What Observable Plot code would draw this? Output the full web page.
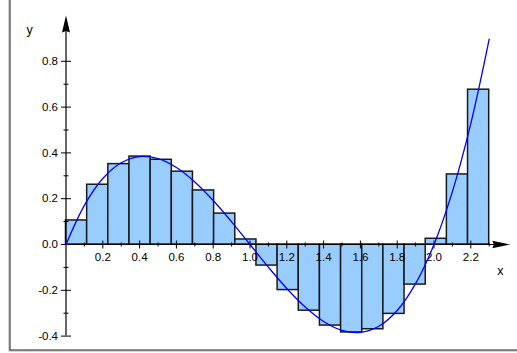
<!DOCTYPE html>
<html>
<head>
<meta charset="utf-8">
<script src="https://cdn.jsdelivr.net/npm/d3@7"></script>
<script src="https://cdn.jsdelivr.net/npm/@observablehq/plot@0.6"></script>
<style>
  html, body { margin: 0; padding: 0; background: #fff; overflow: hidden; }
  #chart { width: 517px; height: 353px; }
</style>
</head>
<body>
<div id="chart"></div>
<script>
// Midpoint Riemann sum: partition edges and rectangle heights
const barEdges = [0, 0.115, 0.23, 0.345, 0.46, 0.575, 0.69, 0.805, 0.92, 1.035, 1.15,
  1.265, 1.38, 1.495, 1.61, 1.725, 1.84, 1.955, 2.07, 2.185, 2.3];
const barHeights = [0.105, 0.261, 0.351, 0.384, 0.370, 0.318, 0.236, 0.135, 0.022, -0.092,
  -0.199, -0.289, -0.354, -0.384, -0.370, -0.303, -0.175, 0.025, 0.306, 0.676];

// Curve samples
const curveX = [0, 0.1, 0.2, 0.3, 0.4, 0.5, 0.6, 0.7, 0.8, 0.9, 1.0, 1.1, 1.2,
  1.3, 1.4, 1.5, 1.6, 1.7, 1.8, 1.9, 2.0, 2.1, 2.2, 2.3];
const curveY = [0, 0.171, 0.288, 0.357, 0.384, 0.375, 0.336, 0.273, 0.192, 0.099, 0,
  -0.099, -0.192, -0.273, -0.336, -0.375, -0.384, -0.357, -0.288, -0.171, 0, 0.231, 0.528, 0.897];

// Ticks
const xTicksMajor = [0.2, 0.4, 0.6, 0.8, 1.0, 1.2, 1.4, 1.6, 1.8, 2.0, 2.2];
const xTickLabels = ["0.2", "0.4", "0.6", "0.8", "1.0", "1.2", "1.4", "1.6", "1.8", "2.0", "2.2"];
const xTicksMinor = [0.1, 0.3, 0.5, 0.7, 0.9, 1.1, 1.3, 1.5, 1.7, 1.9, 2.1, 2.3];
const yTicksMajor = [-0.4, -0.2, 0, 0.2, 0.4, 0.6, 0.8];
const yTickLabels = ["-0.4", "-0.2", "0.0", "0.2", "0.4", "0.6", "0.8"];
const yTicksMinor = [-0.3, -0.1, 0.1, 0.3, 0.5, 0.7];

// Axis extents
const xAxisEnd = 2.415;
const yAxisStart = -0.4;
const yAxisEnd = 1.0;

const bars = barHeights.map((h, i) => ({x1: barEdges[i], x2: barEdges[i + 1], h}));
const curve = curveX.map((x, i) => ({x, y: curveY[i]}));
const xLab = xTicksMajor.map((v, i) => ({v, t: xTickLabels[i]}));
const yLab = yTicksMajor.map((v, i) => ({v, t: yTickLabels[i]}));

const hTick = (h) => ({draw(ctx) { ctx.moveTo(-h, 0); ctx.lineTo(h, 0); }});
const vTick = (h) => ({draw(ctx) { ctx.moveTo(0, -h); ctx.lineTo(0, h); }});
const upArrow = {draw(ctx) { ctx.moveTo(0, 0); ctx.lineTo(4, 17); ctx.lineTo(0, 15.5); ctx.lineTo(-4, 17); ctx.closePath(); }};
const rightArrow = {draw(ctx) { ctx.moveTo(0, 0); ctx.lineTo(-18, -3.8); ctx.lineTo(-16.5, 0); ctx.lineTo(-18, 3.8); ctx.closePath(); }};

const chart = Plot.plot({
  width: 517,
  height: 353,
  marginLeft: 9.5,
  marginBottom: 3.5,
  marginTop: 0,
  marginRight: 0,
  x: {domain: [0, 1], range: [65.5, 249.5], axis: null},
  y: {domain: [0, 1], range: [244, 15], axis: null},
  style: {fontFamily: "'Liberation Sans', Arial, sans-serif", fontSize: "11px", background: "white", overflow: "visible"},
  marks: [
    Plot.frame({stroke: "#aaa", strokeWidth: 1, insetTop: -6, insetRight: -6, insetLeft: -1, insetBottom: -1}),
    Plot.frame({stroke: "#333", strokeWidth: 1.1, insetTop: -5, insetRight: -5}),
    Plot.rect(bars, {x1: "x1", x2: "x2", y1: 0, y2: "h", fill: "#99ccff", stroke: "#1a1a1a", strokeWidth: 1.5}),
    Plot.ruleY([0], {x1: 0, x2: xAxisEnd - 0.05, stroke: "black", strokeWidth: 1.2}),
    Plot.ruleX([0], {y1: yAxisStart, y2: yAxisEnd - 0.03, stroke: "black", strokeWidth: 1.2}),
    Plot.dot(xTicksMajor, {x: d => d, y: 0, symbol: vTick(4), stroke: "black", fill: "none", strokeWidth: 1}),
    Plot.dot(xTicksMinor, {x: d => d, y: 0, symbol: vTick(2), stroke: "black", fill: "none", strokeWidth: 1}),
    Plot.dot(yTicksMajor, {x: 0, y: d => d, symbol: hTick(5), stroke: "black", fill: "none", strokeWidth: 1}),
    Plot.dot(yTicksMinor, {x: 0, y: d => d, symbol: hTick(2.5), stroke: "black", fill: "none", strokeWidth: 1}),
    Plot.dot([0], {x: xAxisEnd, y: 0, symbol: rightArrow, fill: "black", stroke: "none"}),
    Plot.dot([0], {x: 0, y: yAxisEnd, symbol: upArrow, fill: "black", stroke: "none"}),
    Plot.text(xLab, {x: "v", y: 0, text: "t", dy: 13, fill: "#000", fontSize: 11.5}),
    Plot.text(yLab, {x: 0, y: "v", text: "t", dx: -8, textAnchor: "end", fill: "#000", fontSize: 11.5}),
    Plot.text(["y"], {x: 0, y: yAxisEnd, text: d => d, dx: -36.5, dy: 14, fontSize: 12.5, fill: "#000"}),
    Plot.text(["x"], {x: xAxisEnd, y: 0, text: d => d, dx: -10, dy: 26, fontSize: 12.5, fill: "#000"}),
    Plot.line(curve, {x: "x", y: "y", curve: "catmull-rom", stroke: "#0000ff", strokeWidth: 1.3})
  ]
});
document.getElementById("chart").appendChild(chart);
</script>
</body>
</html>
